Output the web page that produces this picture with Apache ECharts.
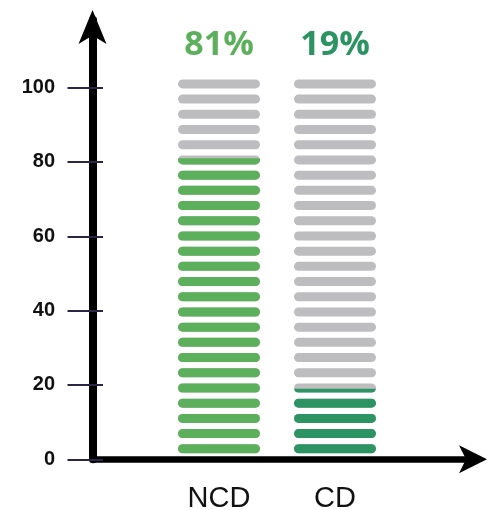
<!DOCTYPE html>
<html>
<head>
<meta charset="utf-8">
<script src="https://cdn.jsdelivr.net/npm/echarts@6/dist/echarts.min.js"></script>
<style>
  html, body { margin: 0; padding: 0; background: #fff; }
  #chart { width: 487px; height: 510px; }
</style>
</head>
<body>
<div id="chart"></div>
<script>
// Shares of the two groups, drawn as striped pictorial bars
const categories = ['NCD', 'CD'];
const shares = [81, 19];
const fullScale = [100, 100];
const barColors = ['#5cb05b', '#2b9462'];
const yTicks = [0, 20, 40, 60, 80, 100];

const PLOT_TOP = 20;
const PLOT_BOTTOM = 50.7;
const Y_MAX = 118.2;        // room above 100 for the axis arrow
const STRIPES = 25;         // each stripe stands for 4%
const STRIPE_SPAN = 100.6;  // value range the stripe stack is laid over
const pill = 'path://M4.5,0H77.5A4.5,4.5,0,0,1,77.5,9H4.5A4.5,4.5,0,0,1,4.5,0Z';

const chart = echarts.init(document.getElementById('chart'), null, { renderer: 'canvas' });

const stripeBase = {
  type: 'pictorialBar',
  xAxisIndex: 0,
  yAxisIndex: 0,
  barWidth: 82,
  barGap: '-100%',
  symbol: pill,
  symbolSize: [82, 9],
  symbolRepeat: STRIPES,
  symbolBoundingData: STRIPE_SPAN,
  symbolOffset: [0, -6]
};

const tickStyle = { color: '#2d2547', width: 2 };

chart.setOption({
  animation: false,
  grid: [
    { left: 161, right: 94, top: PLOT_TOP, bottom: PLOT_BOTTOM, outerBoundsMode: 'none' },
    { left: 92.5, right: 10, top: PLOT_TOP, bottom: PLOT_BOTTOM, outerBoundsMode: 'none' }
  ],
  xAxis: [
    {
      gridIndex: 0,
      type: 'category',
      data: categories,
      axisLine: { show: false },
      axisTick: { show: false },
      axisLabel: { margin: 25, fontSize: 29, color: '#111', fontFamily: 'Liberation Sans' }
    },
    {
      gridIndex: 1,
      type: 'value',
      min: 0,
      max: 1,
      axisLine: {
        show: true,
        symbol: ['none', 'arrow'],
        symbolSize: [21, 28],
        symbolOffset: [0, 10],
        lineStyle: { color: '#000', width: 6.5, cap: 'round' }
      },
      axisTick: { show: false },
      axisLabel: { show: false },
      splitLine: { show: false }
    }
  ],
  yAxis: [
    { gridIndex: 0, type: 'value', min: 0, max: Y_MAX, show: false },
    {
      gridIndex: 1,
      type: 'value',
      min: 0,
      max: Y_MAX,
      position: 'left',
      axisLine: {
        show: true,
        symbol: ['none', 'arrow'],
        symbolSize: [21, 34],
        symbolOffset: [0, 10],
        lineStyle: { color: '#000', width: 8, cap: 'round' }
      },
      axisTick: { show: true, length: 25, customValues: yTicks, lineStyle: tickStyle },
      axisLabel: { show: false },
      splitLine: { show: false }
    },
    {
      gridIndex: 1,
      type: 'value',
      min: 0,
      max: Y_MAX,
      position: 'left',
      axisLine: { show: false },
      axisTick: { show: true, inside: true, length: 10.5, customValues: yTicks, lineStyle: tickStyle },
      axisLabel: {
        margin: 37.5,
        customValues: yTicks,
        fontSize: 20,
        fontWeight: 'bold',
        color: '#111',
        fontFamily: 'Liberation Sans'
      },
      splitLine: { show: false }
    }
  ],
  series: [
    Object.assign({}, stripeBase, {
      name: 'total',
      z: 1,
      itemStyle: { color: '#bdbdbf' },
      label: {
        show: true,
        position: 'top',
        distance: 17,
        fontSize: 34,
        fontWeight: 'bold',
        fontFamily: 'Open Sans',
        formatter: p => shares[p.dataIndex] + '%'
      },
      data: fullScale.map((v, i) => ({ value: v, label: { color: barColors[i] } }))
    }),
    Object.assign({}, stripeBase, {
      name: 'share',
      z: 2,
      symbolClip: true,
      data: shares.map((v, i) => ({ value: v, itemStyle: { color: barColors[i] } }))
    })
  ]
});
</script>
</body>
</html>
